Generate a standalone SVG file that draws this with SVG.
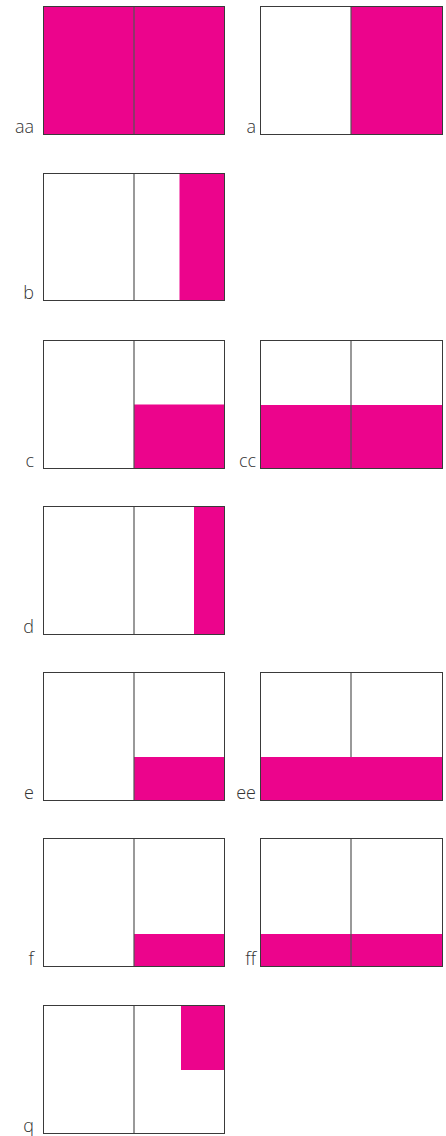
<svg xmlns="http://www.w3.org/2000/svg" width="446" height="1136" viewBox="0 0 446 1136">
<style>
.pg{fill:#ffffff;stroke:none}
.pk{fill:#EC048C;stroke:none}
.bd{fill:none;stroke:#3a3a3a;stroke-width:1}
.md{stroke:#555555;stroke-width:1.2}
.lb{font-family:"Open Sans","Liberation Sans",sans-serif;font-weight:300;font-size:18px;fill:#333333;text-anchor:end}
</style>
<rect width="446" height="1136" fill="#ffffff"/>
<!-- row 1 -->
<g id="aa">
<rect class="pk" x="43.5" y="6.5" width="181" height="128"/>
<line class="md" x1="134" y1="6.5" x2="134" y2="134.5"/>
<rect class="bd" x="43.5" y="6.5" width="181" height="128"/>
<text class="lb" x="34" y="132.5">aa</text>
</g>
<g id="a">
<rect class="pk" x="351" y="6.5" width="91.5" height="128"/>
<line class="md" x1="351" y1="6.5" x2="351" y2="134.5"/>
<rect class="bd" x="260.5" y="6.5" width="182" height="128"/>
<text class="lb" x="256" y="132.5">a</text>
</g>
<!-- row 2 -->
<g id="b">
<rect class="pk" x="179.5" y="173.5" width="45" height="127"/>
<line class="md" x1="134" y1="173.5" x2="134" y2="300.5"/>
<rect class="bd" x="43.5" y="173.5" width="181" height="127"/>
<text class="lb" x="34" y="298.5">b</text>
</g>
<!-- row 3 -->
<g id="c">
<rect class="pk" x="134" y="404.5" width="90.5" height="64"/>
<line class="md" x1="134" y1="340.5" x2="134" y2="468.5"/>
<rect class="bd" x="43.5" y="340.5" width="181" height="128"/>
<text class="lb" x="34" y="466.5">c</text>
</g>
<g id="cc">
<rect class="pk" x="260.5" y="405" width="182" height="63.5"/>
<line class="md" x1="351" y1="340.5" x2="351" y2="468.5"/>
<rect class="bd" x="260.5" y="340.5" width="182" height="128"/>
<text class="lb" x="256" y="466.5">cc</text>
</g>
<!-- row 4 -->
<g id="d">
<rect class="pk" x="194" y="506.5" width="30.5" height="128"/>
<line class="md" x1="134" y1="506.5" x2="134" y2="634.5"/>
<rect class="bd" x="43.5" y="506.5" width="181" height="128"/>
<text class="lb" x="34" y="632.5">d</text>
</g>
<!-- row 5 -->
<g id="e">
<rect class="pk" x="134" y="757" width="90.5" height="43.5"/>
<line class="md" x1="134" y1="672.5" x2="134" y2="800.5"/>
<rect class="bd" x="43.5" y="672.5" width="181" height="128"/>
<text class="lb" x="34" y="798.5">e</text>
</g>
<g id="ee">
<line class="md" x1="351" y1="672.5" x2="351" y2="800.5"/>
<rect class="pk" x="260.5" y="757" width="182" height="43.5"/>
<rect class="bd" x="260.5" y="672.5" width="182" height="128"/>
<text class="lb" x="256" y="798.5">ee</text>
</g>
<!-- row 6 -->
<g id="f">
<rect class="pk" x="134" y="934" width="90.5" height="32.5"/>
<line class="md" x1="134" y1="838.5" x2="134" y2="966.5"/>
<rect class="bd" x="43.5" y="838.5" width="181" height="128"/>
<text class="lb" x="34" y="964.5">f</text>
</g>
<g id="ff">
<rect class="pk" x="260.5" y="934" width="182" height="32.5"/>
<line class="md" x1="351" y1="838.5" x2="351" y2="966.5"/>
<rect class="bd" x="260.5" y="838.5" width="182" height="128"/>
<text class="lb" x="256" y="964.5">ff</text>
</g>
<!-- row 7 -->
<g id="q">
<rect class="pk" x="181" y="1005.5" width="43.5" height="64.5"/>
<line class="md" x1="134" y1="1005.5" x2="134" y2="1133.5"/>
<rect class="bd" x="43.5" y="1005.5" width="181" height="128"/>
<text class="lb" x="34" y="1131.5">q</text>
</g>
<g id="connectors"></g>
</svg>
